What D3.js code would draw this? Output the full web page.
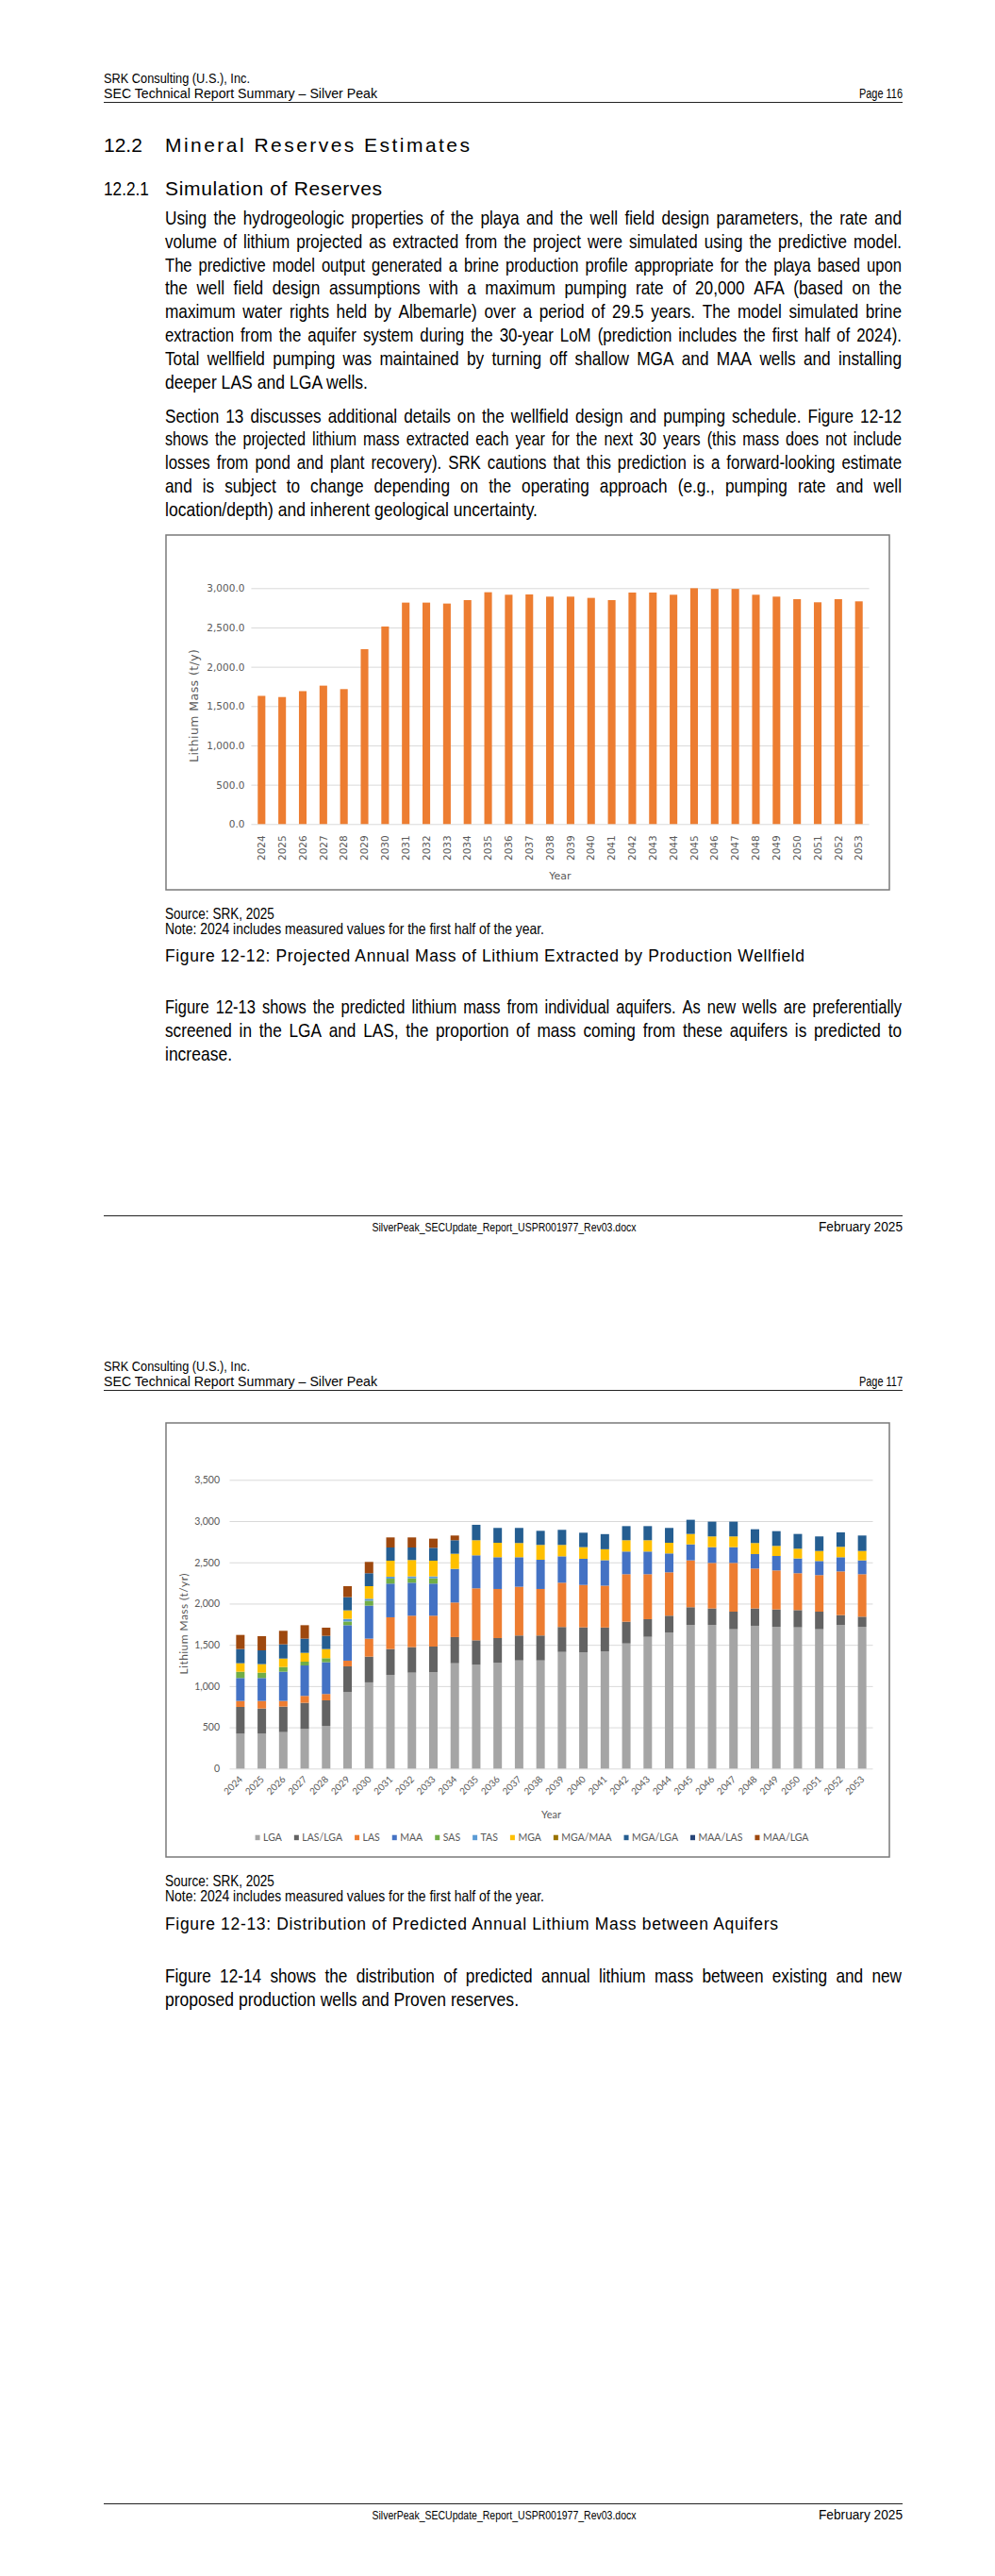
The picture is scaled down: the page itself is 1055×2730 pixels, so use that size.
<!DOCTYPE html>
<html>
<head>
<meta charset="utf-8">
<title>Silver Peak - Lithium Mass</title>
<script src="https://cdn.jsdelivr.net/npm/d3@7/dist/d3.min.js"></script>
<style>
  html, body { margin: 0; padding: 0; background: #fff; }
  svg { display: block; }
</style>
</head>
<body>
<div id="doc"></div>
<script>
// ---- values ----
const years = ["2024","2025","2026","2027","2028","2029","2030","2031","2032","2033",
               "2034","2035","2036","2037","2038","2039","2040","2041","2042","2043",
               "2044","2045","2046","2047","2048","2049","2050","2051","2052","2053"];

// Figure 12-12, total lithium mass (t/y)
const annualMass = [1630,1615,1690,1760,1716,2224,2512,2816,2816,2804,
                    2848,2948,2916,2920,2892,2892,2876,2848,2944,2944,
                    2916,2999,2990,2990,2916,2892,2860,2820,2860,2832];
const massTicks = [0,500,1000,1500,2000,2500,3000];

// Figure 12-13, lithium mass by aquifer (t/yr)
const aquifers = ["LGA","LAS/LGA","LAS","MAA","SAS","TAS","MGA","MGA/MAA","MGA/LGA","MAA/LAS","MAA/LGA"];
const aquiferColors = ["#a5a5a5","#636363","#ed7d31","#4472c4","#70ad47","#5b9bd5","#ffc000","#997300","#255e91","#264478","#9e480e"];
const massLGA    = [423,423,442,480,518,926,1045,1136,1163,1167,1277,1258,1281,1311,1311,1414,1410,1420,1517,1597,1647,1742,1742,1689,1731,1719,1712,1689,1742,1719];
const massLASLGA = [324,305,309,317,309,313,312,313,309,312,317,297,301,302,302,302,302,290,263,214,206,214,199,213,210,210,209,213,118,122];
const massLAS    = [73,92,69,84,77,69,218,385,381,374,419,630,595,591,564,537,514,507,576,545,526,568,552,591,484,473,447,443,530,515];
const massMAA    = [278,278,354,369,385,430,400,408,400,389,408,400,385,358,354,320,317,309,275,275,229,194,191,191,175,175,179,171,172,168];
const massSAS    = [76,65,57,46,49,45,60,60,53,64,0,0,0,0,0,0,0,0,0,0,0,0,0,0,0,0,0,0,0,0];
const massTAS    = [0,0,0,0,0,32,24,24,24,24,0,0,0,0,0,0,0,0,0,0,0,0,0,0,0,0,0,0,0,0];
const massMGA    = [103,103,103,107,111,103,152,194,198,190,183,183,175,172,180,138,141,133,137,137,129,126,130,130,134,122,118,122,126,114];
const massMGAMAA = [0,0,0,0,0,0,0,0,0,0,0,0,0,0,0,0,0,0,0,0,0,0,0,0,0,0,0,0,0,0];
const massMGALGA = [172,167,172,172,160,160,157,160,152,156,164,187,180,183,171,183,175,183,171,171,180,172,179,179,167,179,179,176,175,187];
const massMAALAS = [0,0,0,0,0,0,0,0,0,0,0,0,0,0,0,0,0,0,0,0,0,0,0,0,0,0,0,0,0,0];
const massMAALGA = [171,172,164,163,99,133,137,122,122,111,57,0,0,0,0,0,0,0,0,0,0,0,0,0,0,0,0,0,0,0];
const aquiferTicks = [0,500,1000,1500,2000,2500,3000,3500];

const seriesByAquifer = [massLGA,massLASLGA,massLAS,massMAA,massSAS,massTAS,massMGA,massMGAMAA,massMGALGA,massMAALAS,massMAALGA];

// ---- page ----
const svg = d3.select("#doc").append("svg").attr("width", 1055).attr("height", 2730);
svg.append("rect").attr("width", 1055).attr("height", 2730).attr("fill", "#fff");

function textWidth(family, str, size) {
  const t = svg.append("text").attr("font-family", family).attr("font-size", size || 20).text(str);
  const w = t.node().getComputedTextLength();
  t.remove();
  return w;
}
// narrow face may not be installed: squeeze the regular one instead
const probe = "abcdefghijklmnopqrstuvwxyz ABCDEFG";
const hasNarrow = Math.abs(textWidth("'Liberation Sans Narrow', monospace", probe) - textWidth("monospace", probe)) > 1;
const docFont = hasNarrow ? "'Liberation Sans Narrow', 'Arial Narrow', sans-serif" : "'Liberation Sans', Arial, sans-serif";
const squeeze = hasNarrow ? 1 : 0.82;
const ARIAL = "'Liberation Sans', Arial, sans-serif";

function docText(str, x, y, size, opt) {
  opt = opt || {};
  const t = svg.append("text")
    .attr("x", x).attr("y", y)
    .attr("font-family", opt.family || docFont)
    .attr("font-size", size)
    .attr("fill", opt.fill || "#000")
    .attr("text-anchor", opt.anchor || "start")
    .text(str);
  const sq = opt.family ? 1 : squeeze;
  const nat = t.node().getComputedTextLength();
  if (opt.fit) {
    // scale the type so its natural run matches the reference extent
    if (sq === 1) t.attr("font-size", size * opt.fit / nat);
    else t.attr("textLength", opt.fit).attr("lengthAdjust", "spacingAndGlyphs");
  } else if (opt.width) {
    t.attr("textLength", opt.width).attr("lengthAdjust", opt.adjust || "spacingAndGlyphs");
  } else if (sq !== 1) {
    t.attr("textLength", nat * sq).attr("lengthAdjust", "spacingAndGlyphs");
  }
  return t;
}

// justified line: each word a tspan placed along the measure;
// tight lines are set a touch smaller so word gaps stay open
const MIN_GAP = 7;
function justifiedLine(str, x, y, size, width) {
  const words = str.split(" ");
  const gaps = words.length - 1;
  const wordsW = d3.sum(words, w => textWidth(docFont, w, size)) * squeeze;
  const fs = wordsW + gaps * MIN_GAP > width ? size * (width - gaps * MIN_GAP) / wordsW : size;
  const t = svg.append("text").attr("y", y)
    .attr("font-family", docFont).attr("font-size", fs).attr("fill", "#000");
  const spans = words.map(w => t.append("tspan").attr("x", x).text(w));
  const widths = spans.map(s => s.node().getComputedTextLength() * squeeze);
  const gap = (width - d3.sum(widths)) / gaps;
  let cx = x;
  spans.forEach((s, i) => {
    s.attr("x", cx);
    if (squeeze !== 1) s.attr("textLength", widths[i]).attr("lengthAdjust", "spacingAndGlyphs");
    cx += widths[i] + gap;
  });
  return t;
}

const BODY = 21;
function paragraph(lines, x, y0, lead, lastWidth) {
  lines.forEach((s, i) => {
    const y = y0 + i * lead;
    if (i === lines.length - 1) docText(s, x, y, BODY, {fit: lastWidth});
    else justifiedLine(s, x, y, BODY, 781);
  });
}

function pageHeader(off, pageNo) {
  docText("SRK Consulting (U.S.), Inc.", 110, off + 88, 15, {fit: 155});
  docText("SEC Technical Report Summary \u2013 Silver Peak", 110, off + 104, 15, {fit: 290});
  docText("Page " + pageNo, 957, off + 104, 15, {anchor: "end", fit: 46});
  svg.append("line").attr("x1", 110).attr("x2", 957).attr("y1", off + 108.5).attr("y2", off + 108.5)
    .attr("stroke", "#222").attr("stroke-width", 1);
}

function pageFooter(off) {
  svg.append("line").attr("x1", 110).attr("x2", 957).attr("y1", off + 1288.5).attr("y2", off + 1288.5)
    .attr("stroke", "#222").attr("stroke-width", 1);
  docText("SilverPeak_SECUpdate_Report_USPR001977_Rev03.docx", 534.5, off + 1305, 12.5, {anchor: "middle", fit: 280});
  docText("February 2025", 957, off + 1305, 15.5, {anchor: "end", fit: 89});
}

// ---- page 116 ----
pageHeader(0, 116);
docText("12.2", 110, 161, 21, {family: ARIAL});
docText("Mineral Reserves Estimates", 175, 161, 21, {family: ARIAL, width: 323, adjust: "spacing"});
docText("12.2.1", 110, 207, 21);
docText("Simulation of Reserves", 175, 207, 21, {width: 230, adjust: "spacing"});

paragraph([
  "Using the hydrogeologic properties of the playa and the well field design parameters, the rate and",
  "volume of lithium projected as extracted from the project were simulated using the predictive model.",
  "The predictive model output generated a brine production profile appropriate for the playa based upon",
  "the well field design assumptions with a maximum pumping rate of 20,000 AFA (based on the",
  "maximum water rights held by Albemarle) over a period of 29.5 years. The model simulated brine",
  "extraction from the aquifer system during the 30-year LoM (prediction includes the first half of 2024).",
  "Total wellfield pumping was maintained by turning off shallow MGA and MAA wells and installing",
  "deeper LAS and LGA wells."
], 175, 238, 24.8, 215);

paragraph([
  "Section 13 discusses additional details on the wellfield design and pumping schedule. Figure 12-12",
  "shows the projected lithium mass extracted each year for the next 30 years (this mass does not include",
  "losses from pond and plant recovery). SRK cautions that this prediction is a forward-looking estimate",
  "and is subject to change depending on the operating approach (e.g., pumping rate and well",
  "location/depth) and inherent geological uncertainty."
], 175, 447.5, 24.8, 395);

// Figure 12-12: single series column chart
(function drawAnnualMass() {
  const g = svg.append("g");
  g.append("rect").attr("x", 176).attr("y", 567).attr("width", 767).attr("height", 376)
    .attr("fill", "#fff").attr("stroke", "#7a7a7a").attr("stroke-width", 1.5);

  const x = d3.scaleBand().domain(years).range([266.4, 921.6]).paddingInner(0.63).paddingOuter(0.315);
  const y = d3.scaleLinear().domain([0, 3000]).range([873.3, 623.3]);

  const yAxis = g.append("g").attr("transform", "translate(266.4,0)")
    .call(d3.axisLeft(y).tickValues(massTicks).tickFormat(d3.format(",.1f"))
      .tickSize(-(921.6 - 266.4)).tickPadding(7));
  yAxis.select(".domain").remove();
  yAxis.selectAll("line").attr("stroke", "#d9d9d9").attr("stroke-width", 1);
  yAxis.selectAll("text").attr("font-family", "'DejaVu Sans', Verdana, sans-serif")
    .attr("font-size", 10.5).attr("fill", "#595959");

  g.selectAll("rect.bar").data(annualMass).join("rect").attr("class", "bar")
    .attr("x", (d, i) => x(years[i])).attr("width", x.bandwidth())
    .attr("y", d => y(d)).attr("height", d => y(0) - y(d))
    .attr("fill", "#ed7d31");

  const xAxis = g.append("g").attr("transform", `translate(0,${y(0)})`)
    .call(d3.axisBottom(x).tickSize(0));
  xAxis.select(".domain").remove();
  xAxis.selectAll("text")
    .attr("transform", "rotate(-90)").attr("x", -12).attr("y", 0).attr("dy", "0.35em")
    .attr("text-anchor", "end")
    .attr("font-family", "'DejaVu Sans', Verdana, sans-serif").attr("font-size", 10.5).attr("fill", "#595959");

  g.append("text").attr("transform", "translate(206,748) rotate(-90)")
    .attr("text-anchor", "middle").attr("dy", "0.35em")
    .attr("font-family", "'DejaVu Sans', Verdana, sans-serif").attr("font-size", 12.5).attr("fill", "#595959")
    .attr("textLength", 120).attr("lengthAdjust", "spacing")
    .text("Lithium Mass (t/y)");
  g.append("text").attr("x", (266.4 + 921.6) / 2).attr("y", 932)
    .attr("text-anchor", "middle")
    .attr("font-family", "'DejaVu Sans', Verdana, sans-serif").attr("font-size", 11).attr("fill", "#595959")
    .text("Year");
})();

docText("Source: SRK, 2025", 175, 974, 16.5);
docText("Note: 2024 includes measured values for the first half of the year.", 175, 990, 16.5, {fit: 402});
docText("Figure 12-12: Projected Annual Mass of Lithium Extracted by Production Wellfield", 175, 1019, 17.5,
  {width: 678, adjust: "spacing"});

paragraph([
  "Figure 12-13 shows the predicted lithium mass from individual aquifers. As new wells are preferentially",
  "screened in the LGA and LAS, the proportion of mass coming from these aquifers is predicted to",
  "increase."
], 175, 1074, 25, 71);

pageFooter(0);

// ---- page 117 ----
const P2 = 1365;
pageHeader(P2, 117);

// Figure 12-13: stacked columns by aquifer
(function drawAquiferMass() {
  const g = svg.append("g");
  const chartFont = "Lato, 'Open Sans', sans-serif";
  g.append("rect").attr("x", 176).attr("y", 1508).attr("width", 767).attr("height", 460)
    .attr("fill", "#fff").attr("stroke", "#7a7a7a").attr("stroke-width", 1.5);

  const rows = years.map((yr, i) => {
    const r = {year: yr};
    aquifers.forEach((a, k) => { r[a] = seriesByAquifer[k][i]; });
    return r;
  });
  const stacked = d3.stack().keys(aquifers)(rows);
  const color = d3.scaleOrdinal().domain(aquifers).range(aquiferColors);

  const x = d3.scaleBand().domain(years).range([243.5, 925.5]).paddingInner(0.604).paddingOuter(0.302);
  const y = d3.scaleLinear().domain([0, 3500]).range([1874.3, 1568.3]);

  const yAxis = g.append("g").attr("transform", "translate(243.5,0)")
    .call(d3.axisLeft(y).tickValues(aquiferTicks).tickFormat(d3.format(","))
      .tickSize(-(925.5 - 243.5)).tickPadding(10.5));
  yAxis.select(".domain").remove();
  yAxis.selectAll("line").attr("stroke", "#d9d9d9").attr("stroke-width", 1);
  yAxis.selectAll("text").attr("font-family", chartFont).attr("font-size", 10.5).attr("fill", "#595959");

  g.selectAll("g.layer").data(stacked).join("g").attr("class", "layer")
    .attr("fill", d => color(d.key))
    .selectAll("rect").data(d => d.filter(s => s[1] - s[0] > 0)).join("rect")
    .attr("x", d => x(d.data.year)).attr("width", x.bandwidth())
    .attr("y", d => y(d[1])).attr("height", d => y(d[0]) - y(d[1]));

  const xAxis = g.append("g").attr("transform", `translate(0,${y(0)})`)
    .call(d3.axisBottom(x).tickSize(0));
  xAxis.select(".domain").remove();
  xAxis.selectAll("text")
    .attr("y", 0).attr("dy", 0)
    .attr("transform", "translate(3,12) rotate(-45)")
    .attr("text-anchor", "end")
    .attr("font-family", chartFont).attr("font-size", 10).attr("fill", "#595959");

  g.append("text").attr("transform", "translate(195,1721) rotate(-90)")
    .attr("text-anchor", "middle").attr("dy", "0.35em")
    .attr("font-family", chartFont).attr("font-size", 12).attr("fill", "#595959")
    .attr("textLength", 107).attr("lengthAdjust", "spacing")
    .text("Lithium Mass (t/yr)");
  g.append("text").attr("x", (243.5 + 925.5) / 2).attr("y", 1927)
    .attr("text-anchor", "middle")
    .attr("font-family", chartFont).attr("font-size", 11).attr("fill", "#595959")
    .text("Year");

  // legend, laid out from measured text widths then centred
  const lg = g.append("g");
  let cx = 0;
  aquifers.forEach(a => {
    const item = lg.append("g").attr("transform", `translate(${cx},0)`);
    item.append("rect").attr("x", 0).attr("y", -3).attr("width", 5).attr("height", 5.5).attr("fill", color(a));
    const t = item.append("text").attr("x", 8.5).attr("y", 0).attr("dy", "0.35em")
      .attr("font-family", chartFont).attr("font-size", 10.5).attr("fill", "#595959").text(a);
    cx += 8.5 + t.node().getComputedTextLength() + 13;
  });
  const lw = cx - 13;
  lg.attr("transform", `translate(${564 - lw / 2},1947.7)`);
})();

docText("Source: SRK, 2025", 175, 1998.5, 16.5);
docText("Note: 2024 includes measured values for the first half of the year.", 175, 2015, 16.5, {fit: 402});
docText("Figure 12-13: Distribution of Predicted Annual Lithium Mass between Aquifers", 175, 2044.5, 17.5,
  {width: 650, adjust: "spacing"});

paragraph([
  "Figure 12-14 shows the distribution of predicted annual lithium mass between existing and new",
  "proposed production wells and Proven reserves."
], 175, 2101, 24.8, 375);

pageFooter(P2);
</script>
</body>
</html>
